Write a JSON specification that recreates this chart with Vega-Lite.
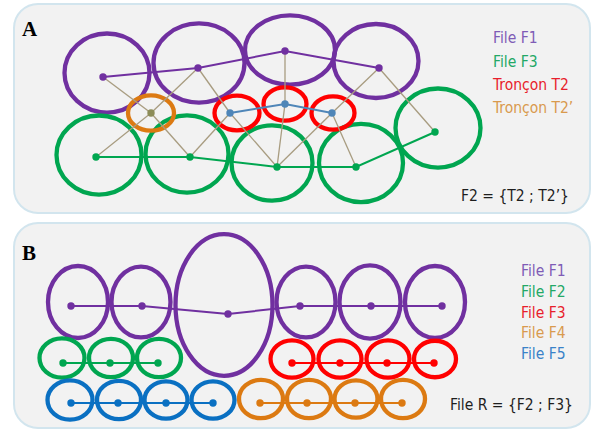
{
  "$schema": "https://vega.github.io/schema/vega-lite/v6.json",
  "width": 595,
  "height": 431,
  "padding": 0,
  "autosize": {"type": "fit", "contains": "padding"},
  "background": "white",
  "config": {"view": {"stroke": null}},
  "datasets": {
    "panels": [
      {"x": 14, "x2": 590, "y": 4, "y2": 213},
      {"x": 14, "x2": 590, "y": 223, "y2": 428}
    ],
    "ellipses": [
      {"c": "purple", "x": 107, "y": 73, "w": 85, "form": "0.93"},
      {"c": "purple", "x": 199, "y": 63, "w": 91, "form": "0.87"},
      {"c": "purple", "x": 290, "y": 50, "w": 90, "form": "0.77"},
      {"c": "purple", "x": 376, "y": 61, "w": 85, "form": "0.87"},
      {"c": "green", "x": 99, "y": 155, "w": 85, "form": "0.93"},
      {"c": "green", "x": 187, "y": 154, "w": 83, "form": "0.93"},
      {"c": "green", "x": 272, "y": 163, "w": 81, "form": "0.93"},
      {"c": "green", "x": 361, "y": 163, "w": 84, "form": "0.93"},
      {"c": "green", "x": 438, "y": 128, "w": 85, "form": "0.93"},
      {"c": "orange", "x": 151, "y": 113, "w": 46, "form": "0.77"},
      {"c": "red", "x": 237, "y": 113, "w": 45, "form": "0.77"},
      {"c": "red", "x": 285, "y": 104, "w": 43, "form": "0.77"},
      {"c": "red", "x": 333, "y": 113, "w": 43, "form": "0.77"},
      {"c": "purple", "x": 78, "y": 302, "w": 60, "form": "1.2"},
      {"c": "purple", "x": 141, "y": 302, "w": 59, "form": "1.2"},
      {"c": "purple", "x": 224, "y": 305, "w": 97, "form": "1.46"},
      {"c": "purple", "x": 306, "y": 302, "w": 59, "form": "1.2"},
      {"c": "purple", "x": 370, "y": 302, "w": 61, "form": "1.2"},
      {"c": "purple", "x": 435, "y": 302, "w": 60, "form": "1.2"},
      {"c": "green", "x": 62, "y": 358, "w": 45, "form": "0.87"},
      {"c": "green", "x": 111, "y": 358, "w": 44, "form": "0.87"},
      {"c": "green", "x": 159, "y": 358, "w": 44, "form": "0.87"},
      {"c": "red", "x": 292, "y": 359, "w": 43, "form": "0.87"},
      {"c": "red", "x": 340, "y": 359, "w": 43, "form": "0.87"},
      {"c": "red", "x": 388, "y": 359, "w": 43, "form": "0.87"},
      {"c": "red", "x": 435, "y": 359, "w": 42, "form": "0.87"},
      {"c": "blue", "x": 70, "y": 400, "w": 45, "form": "0.87"},
      {"c": "blue", "x": 119, "y": 400, "w": 44, "form": "0.87"},
      {"c": "blue", "x": 166, "y": 400, "w": 43, "form": "0.87"},
      {"c": "blue", "x": 213, "y": 400, "w": 43, "form": "0.87"},
      {"c": "orange", "x": 261, "y": 399, "w": 44, "form": "0.87"},
      {"c": "orange", "x": 309, "y": 399, "w": 44, "form": "0.87"},
      {"c": "orange", "x": 356, "y": 399, "w": 43, "form": "0.87"},
      {"c": "orange", "x": 403, "y": 399, "w": 44, "form": "0.87"}
    ],
    "links": [
      {"x": 103, "y": 77, "x2": 151, "y2": 113},
      {"x": 151, "y": 113, "x2": 190, "y2": 157},
      {"x": 198, "y": 68, "x2": 151, "y2": 113},
      {"x": 151, "y": 113, "x2": 96, "y2": 157},
      {"x": 198, "y": 68, "x2": 230, "y2": 113},
      {"x": 230, "y": 113, "x2": 190, "y2": 157},
      {"x": 230, "y": 113, "x2": 277, "y2": 167},
      {"x": 285, "y": 51, "x2": 285, "y2": 104},
      {"x": 285, "y": 104, "x2": 277, "y2": 167},
      {"x": 277, "y": 167, "x2": 332, "y2": 113},
      {"x": 332, "y": 113, "x2": 379, "y2": 68},
      {"x": 332, "y": 113, "x2": 356, "y2": 167},
      {"x": 379, "y": 68, "x2": 435, "y2": 132}
    ],
    "paths": [
      {"id": "A1", "c": "purple", "o": 1, "x": 103, "y": 77},
      {"id": "A1", "c": "purple", "o": 2, "x": 198, "y": 68},
      {"id": "A1", "c": "purple", "o": 3, "x": 285, "y": 51},
      {"id": "A1", "c": "purple", "o": 4, "x": 379, "y": 68},
      {"id": "A2", "c": "green", "o": 1, "x": 96, "y": 157},
      {"id": "A2", "c": "green", "o": 2, "x": 190, "y": 157},
      {"id": "A2", "c": "green", "o": 3, "x": 277, "y": 167},
      {"id": "A2", "c": "green", "o": 4, "x": 356, "y": 167},
      {"id": "A2", "c": "green", "o": 5, "x": 435, "y": 132},
      {"id": "A3", "c": "steel", "o": 1, "x": 230, "y": 113},
      {"id": "A3", "c": "steel", "o": 2, "x": 285, "y": 104},
      {"id": "A3", "c": "steel", "o": 3, "x": 332, "y": 113},
      {"id": "A4", "c": "olive", "o": 1, "x": 151, "y": 113},
      {"id": "B1", "c": "purple", "o": 1, "x": 71, "y": 306},
      {"id": "B1", "c": "purple", "o": 2, "x": 142, "y": 306},
      {"id": "B1", "c": "purple", "o": 3, "x": 228, "y": 314},
      {"id": "B1", "c": "purple", "o": 4, "x": 300, "y": 306},
      {"id": "B1", "c": "purple", "o": 5, "x": 371, "y": 306},
      {"id": "B1", "c": "purple", "o": 6, "x": 442, "y": 306},
      {"id": "B2", "c": "green", "o": 1, "x": 63, "y": 363},
      {"id": "B2", "c": "green", "o": 2, "x": 110, "y": 363},
      {"id": "B2", "c": "green", "o": 3, "x": 158, "y": 363},
      {"id": "B3", "c": "red", "o": 1, "x": 292, "y": 363},
      {"id": "B3", "c": "red", "o": 2, "x": 340, "y": 363},
      {"id": "B3", "c": "red", "o": 3, "x": 387, "y": 363},
      {"id": "B3", "c": "red", "o": 4, "x": 434, "y": 363},
      {"id": "B4", "c": "blue", "o": 1, "x": 71, "y": 403},
      {"id": "B4", "c": "blue", "o": 2, "x": 118, "y": 403},
      {"id": "B4", "c": "blue", "o": 3, "x": 166, "y": 403},
      {"id": "B4", "c": "blue", "o": 4, "x": 213, "y": 403},
      {"id": "B5", "c": "orange", "o": 1, "x": 260, "y": 403},
      {"id": "B5", "c": "orange", "o": 2, "x": 307, "y": 403},
      {"id": "B5", "c": "orange", "o": 3, "x": 355, "y": 403},
      {"id": "B5", "c": "orange", "o": 4, "x": 402, "y": 403}
    ],
    "letters": [
      {"t": "A", "x": 22, "y": 36},
      {"t": "B", "x": 22, "y": 260}
    ],
    "texts": [
      {"t": "File F1", "c": "tpurple", "x": 493, "y": 43},
      {"t": "File F3", "c": "tgreen", "x": 493, "y": 67},
      {"t": "Tronçon T2", "c": "tred", "x": 493, "y": 90},
      {"t": "Tronçon T2’", "c": "torange", "x": 493, "y": 113},
      {"t": "F2 = {T2 ; T2’}", "c": "black", "x": 461, "y": 201},
      {"t": "File F1", "c": "tpurple", "x": 521, "y": 276},
      {"t": "File F2", "c": "tgreen", "x": 521, "y": 297},
      {"t": "File F3", "c": "tred", "x": 521, "y": 318},
      {"t": "File F4", "c": "torange", "x": 521, "y": 338},
      {"t": "File F5", "c": "tblue", "x": 521, "y": 359},
      {"t": "File R = {F2 ; F3}", "c": "black", "x": 450, "y": 410}
    ]
  },
  "layer": [
    {
      "data": {"name": "panels"},
      "mark": {"type": "rect", "cornerRadius": 24, "fill": "#c4c4c4", "xOffset": 2, "yOffset": 3},
      "encoding": {
        "x": {"field": "x", "type": "quantitative", "scale": {"domain": [0, 595], "nice": false, "zero": false}, "axis": null},
        "x2": {"field": "x2"},
        "y": {"field": "y", "type": "quantitative", "scale": {"domain": [0, 431], "nice": false, "zero": false, "reverse": true}, "axis": null},
        "y2": {"field": "y2"}
      }
    },
    {
      "data": {"name": "panels"},
      "mark": {"type": "rect", "cornerRadius": 24, "fill": "#f2f2f2", "stroke": "#d2e5ee", "strokeWidth": 2},
      "encoding": {
        "x": {"field": "x", "type": "quantitative", "axis": null},
        "x2": {"field": "x2"},
        "y": {"field": "y", "type": "quantitative", "axis": null},
        "y2": {"field": "y2"}
      }
    },
    {
      "data": {"name": "ellipses"},
      "mark": {"type": "point", "filled": false, "strokeWidth": 4.3, "opacity": 1},
      "encoding": {
        "x": {"field": "x", "type": "quantitative", "axis": null},
        "y": {"field": "y", "type": "quantitative", "axis": null},
        "color": {"field": "c", "type": "nominal", "legend": null,
          "scale": {
            "domain": ["purple", "green", "red", "orange", "blue", "steel", "olive", "tpurple", "tgreen", "tred", "torange", "tblue", "black"],
            "range": ["#7030a0", "#00a650", "#ff0000", "#dc7a12", "#0a70c2", "#4f86b8", "#8c8c58", "#7f5cb6", "#23a866", "#e81e2c", "#d99a4e", "#3a82c8", "#1e1e1e"]
          }},
        "shape": {"field": "form", "type": "nominal", "legend": null,
          "scale": {
            "domain": ["0.77", "0.87", "0.93", "1.2", "1.46"],
            "range": [
              "M1,0C1,0.4253,0.5523,0.77,0,0.77C-0.5523,0.77,-1,0.4253,-1,0C-1,-0.4253,-0.5523,-0.77,0,-0.77C0.5523,-0.77,1,-0.4253,1,0Z",
              "M1,0C1,0.4805,0.5523,0.87,0,0.87C-0.5523,0.87,-1,0.4805,-1,0C-1,-0.4805,-0.5523,-0.87,0,-0.87C0.5523,-0.87,1,-0.4805,1,0Z",
              "M1,0C1,0.5136,0.5523,0.93,0,0.93C-0.5523,0.93,-1,0.5136,-1,0C-1,-0.5136,-0.5523,-0.93,0,-0.93C0.5523,-0.93,1,-0.5136,1,0Z",
              "M1,0C1,0.6628,0.5523,1.2,0,1.2C-0.5523,1.2,-1,0.6628,-1,0C-1,-0.6628,-0.5523,-1.2,0,-1.2C0.5523,-1.2,1,-0.6628,1,0Z",
              "M1,0C1,0.8064,0.5523,1.46,0,1.46C-0.5523,1.46,-1,0.8064,-1,0C-1,-0.8064,-0.5523,-1.46,0,-1.46C0.5523,-1.46,1,-0.8064,1,0Z"
            ]
          }},
        "size": {"field": "w", "type": "quantitative", "legend": null,
          "scale": {"type": "pow", "exponent": 2, "domain": [0, 100], "range": [0, 10000]}}
      }
    },
    {
      "data": {"name": "links"},
      "mark": {"type": "rule", "color": "#a89c80", "strokeWidth": 1.3},
      "encoding": {
        "x": {"field": "x", "type": "quantitative", "axis": null},
        "y": {"field": "y", "type": "quantitative", "axis": null},
        "x2": {"field": "x2"},
        "y2": {"field": "y2"}
      }
    },
    {
      "data": {"name": "paths"},
      "mark": {"type": "line", "strokeWidth": 2},
      "encoding": {
        "x": {"field": "x", "type": "quantitative", "axis": null},
        "y": {"field": "y", "type": "quantitative", "axis": null},
        "detail": {"field": "id"},
        "order": {"field": "o"},
        "color": {"field": "c", "type": "nominal", "legend": null}
      }
    },
    {
      "data": {"name": "paths"},
      "mark": {"type": "circle", "size": 55, "opacity": 1},
      "encoding": {
        "x": {"field": "x", "type": "quantitative", "axis": null},
        "y": {"field": "y", "type": "quantitative", "axis": null},
        "color": {"field": "c", "type": "nominal", "legend": null}
      }
    },
    {
      "data": {"name": "letters"},
      "mark": {"type": "text", "font": "Liberation Serif", "fontWeight": "bold", "fontSize": 21, "align": "left", "baseline": "alphabetic", "color": "#000000"},
      "encoding": {
        "x": {"field": "x", "type": "quantitative", "axis": null},
        "y": {"field": "y", "type": "quantitative", "axis": null},
        "text": {"field": "t"}
      }
    },
    {
      "data": {"name": "texts"},
      "mark": {"type": "text", "font": "DejaVu Sans Condensed, sans-serif", "fontSize": 15.5, "align": "left", "baseline": "alphabetic"},
      "encoding": {
        "x": {"field": "x", "type": "quantitative", "axis": null},
        "y": {"field": "y", "type": "quantitative", "axis": null},
        "text": {"field": "t"},
        "color": {"field": "c", "type": "nominal", "legend": null}
      }
    }
  ]
}
